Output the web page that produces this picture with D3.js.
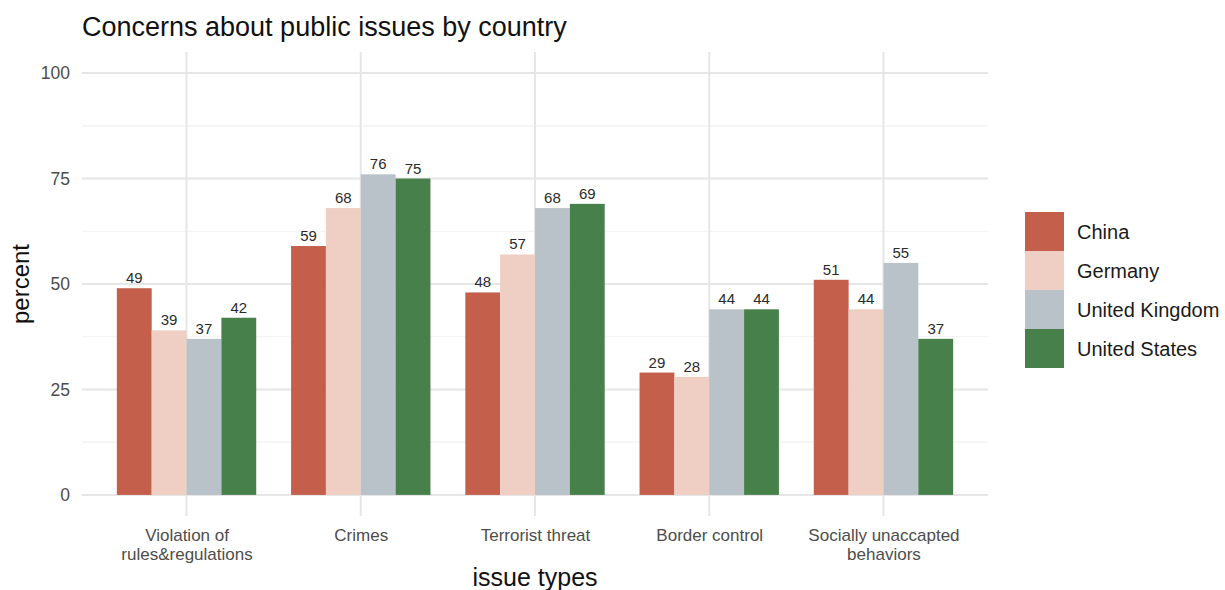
<!DOCTYPE html>
<html>
<head>
<meta charset="utf-8">
<script src="https://cdn.jsdelivr.net/npm/d3@7"></script>
<style>
  html, body { margin: 0; padding: 0; background: #fff; }
  svg { display: block; font-family: "Liberation Sans", Arial, sans-serif; }
</style>
</head>
<body>
<svg id="chart" width="1225" height="590"></svg>
<script>
// Issue categories (x axis) and their tick labels, split into lines
const categories = ["Violation of rules&regulations", "Crimes", "Terrorist threat", "Border control", "Socially unaccapted behaviors"];
const categoryLabels = [["Violation of", "rules&regulations"], ["Crimes"], ["Terrorist threat"], ["Border control"], ["Socially unaccapted", "behaviors"]];

// Countries (fill legend) and their colours
const countries = ["China", "Germany", "United Kingdom", "United States"];
const countryColors = ["#c35f4b", "#efcec4", "#b9c2c8", "#47804b"];

// Percent of respondents concerned, one array per country, in category order
const china = [49, 59, 48, 29, 51];
const germany = [39, 68, 57, 28, 44];
const unitedKingdom = [37, 76, 68, 44, 55];
const unitedStates = [42, 75, 69, 44, 37];

const yTicks = [0, 25, 50, 75, 100];
const yMinor = [12.5, 37.5, 62.5, 87.5];

const seriesValues = [china, germany, unitedKingdom, unitedStates];
const rows = [];
categories.forEach((c, i) => {
  countries.forEach((k, j) => rows.push({ category: c, country: k, value: seriesValues[j][i] }));
});

const svg = d3.select("#chart");
const panel = { left: 82, right: 988, top: 52, bottom: 516 };

// Discrete x scale with ggplot-style 0.6 unit padding on each side
const x = d3.scalePoint().domain(categories).range([panel.left, panel.right]).padding(0.6);
const step = x.step();
const groupWidth = step * 0.8;
const xInner = d3.scaleBand().domain(countries).range([-groupWidth / 2, groupWidth / 2]).padding(0);
const y = d3.scaleLinear().domain([-5, 105]).range([panel.bottom, panel.top]);
const color = d3.scaleOrdinal().domain(countries).range(countryColors);

// Grid
const grid = svg.append("g");
grid.selectAll("line.minor").data(yMinor).join("line")
  .attr("x1", panel.left).attr("x2", panel.right)
  .attr("y1", d => y(d)).attr("y2", d => y(d))
  .attr("stroke", "#f1f1f1").attr("stroke-width", 1.2);
grid.selectAll("line.major").data(yTicks).join("line")
  .attr("x1", panel.left).attr("x2", panel.right)
  .attr("y1", d => y(d)).attr("y2", d => y(d))
  .attr("stroke", "#e6e6e6").attr("stroke-width", 2);
grid.selectAll("line.vmajor").data(categories).join("line")
  .attr("x1", d => x(d)).attr("x2", d => x(d))
  .attr("y1", panel.top).attr("y2", panel.bottom)
  .attr("stroke", "#e6e6e6").attr("stroke-width", 2);

// Bars
const bars = svg.append("g");
bars.selectAll("rect").data(rows).join("rect")
  .attr("x", d => x(d.category) + xInner(d.country))
  .attr("width", xInner.bandwidth())
  .attr("y", d => y(d.value))
  .attr("height", d => y(0) - y(d.value))
  .attr("fill", d => color(d.country));

// Value labels
bars.selectAll("text").data(rows).join("text")
  .attr("x", d => x(d.category) + xInner(d.country) + xInner.bandwidth() / 2)
  .attr("y", d => y(d.value) - 5)
  .attr("text-anchor", "middle")
  .attr("font-size", 15)
  .attr("fill", "#2b2b2b")
  .text(d => d.value);

// Y axis tick labels
const yAxis = d3.axisLeft(y).tickValues(yTicks).tickSize(0).tickPadding(0);
const yg = svg.append("g").attr("transform", `translate(${panel.left - 12},0)`).call(yAxis);
yg.select(".domain").remove();
yg.selectAll("text").attr("font-size", 17.5).attr("fill", "#4d4d4d").attr("font-family", "Liberation Sans, Arial, sans-serif");

// X axis tick labels (multi-line)
const xAxis = d3.axisBottom(x).tickSize(0).tickPadding(0).tickFormat(() => "");
const xg = svg.append("g").attr("transform", `translate(0,${panel.bottom})`).call(xAxis);
xg.select(".domain").remove();
xg.selectAll(".tick text").each(function (d, i) {
  const t = d3.select(this).attr("y", 0).attr("dy", null)
    .attr("font-size", 17).attr("fill", "#4d4d4d")
    .attr("font-family", "Liberation Sans, Arial, sans-serif");
  categoryLabels[i].forEach((line, k) => {
    t.append("tspan").attr("x", 0).attr("y", 25 + k * 19).text(line);
  });
});

// Axis titles
svg.append("text")
  .attr("x", (panel.left + panel.right) / 2).attr("y", 586)
  .attr("text-anchor", "middle").attr("font-size", 25).attr("fill", "#111")
  .text("issue types");
svg.append("text")
  .attr("transform", `translate(29,${y(50)}) rotate(-90)`)
  .attr("text-anchor", "middle").attr("font-size", 24).attr("fill", "#111")
  .text("percent");

// Title
svg.append("text")
  .attr("x", panel.left).attr("y", 36)
  .attr("font-size", 27).attr("fill", "#111")
  .text("Concerns about public issues by country");

// Legend
const keySize = 39;
const legend = svg.append("g").attr("transform", "translate(1025,212)");
const items = legend.selectAll("g").data(countries).join("g")
  .attr("transform", (d, i) => `translate(0,${i * keySize})`);
items.append("rect").attr("width", keySize).attr("height", keySize).attr("fill", d => color(d));
items.append("text").attr("x", keySize + 13).attr("y", keySize / 2 + 7)
  .attr("font-size", 20).attr("fill", "#1a1a1a").text(d => d);
</script>
</body>
</html>
